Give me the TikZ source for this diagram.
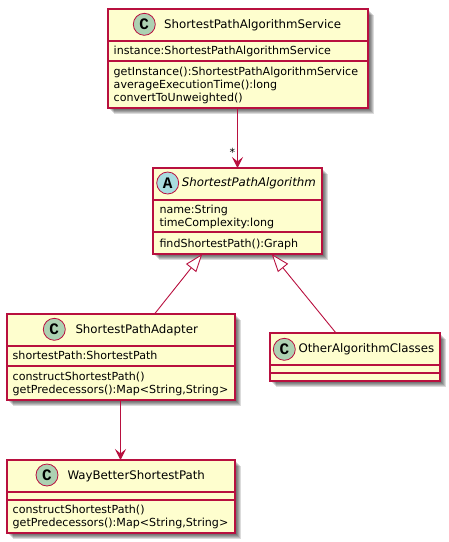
\documentclass[tikz,border=0pt]{standalone}
\usepackage{fontspec}
\setmainfont{DejaVu Sans}
\newfontfamily\markfont{Liberation Mono}
\usetikzlibrary{arrows.meta,shadows}
\definecolor{umlline}{HTML}{B8103F}
\definecolor{umlfill}{HTML}{FEFECE}
\definecolor{umlclass}{HTML}{ADD1B2}
\definecolor{umlabstract}{HTML}{A9DCDF}
\tikzset{
  softshadow/.style={general shadow={shadow xshift=#1,shadow yshift=-#1,fill=black,opacity=.14}},
  classbox/.style={draw=umlline,fill=umlfill,line width=1.1pt,inner sep=0pt,outer sep=0pt,anchor=north west,
    softshadow=6pt,softshadow=5pt,softshadow=4pt,softshadow=3pt,softshadow=2pt},
  sep/.style={umlline,line width=1.1pt},
  badge/.style={circle,draw=umlline,line width=.8pt,minimum size=22pt,inner sep=0pt,font=\markfont\bfseries\fontsize{16}{16}\selectfont},
  titletext/.style={anchor=base west,inner sep=0pt,font=\fontsize{11.8}{14}\selectfont},
  membertext/.style={anchor=base west,inner sep=0pt,align=left,font=\fontsize{11.1}{13}\selectfont},
  assoc/.style={umlline,line width=.9pt,-{Stealth[length=11pt,width=11pt,inset=4.5pt]}},
  extends/.style={umlline,line width=.9pt,-{Triangle[open,fill=white,length=18pt,width=13pt]}},
}
\begin{document}
\begin{tikzpicture}[x=1pt,y=-1pt]
\useasboundingbox (0,0) rectangle (449,542);

\node[classbox,minimum width=260pt,minimum height=99pt] (service) at (108,9) {};
\draw[sep] (108,41) -- (368,41);
\draw[sep] (108,61) -- (368,61);
\node[badge,fill=umlclass] (servicemark) at (144.3,24.3) {C};
\node[titletext] (servicetitle) at (164,28.3) {ShortestPathAlgorithmService};
\node[membertext] (servicefields) at (113.5,54.3) {instance:ShortestPathAlgorithmService};
\node[membertext] (servicemethods) at (113.5,101) {getInstance():ShortestPathAlgorithmService\\averageExecutionTime():long\\convertToUnweighted()};

\node[classbox,minimum width=169pt,minimum height=86pt] (algorithm) at (153,168) {};
\draw[sep] (153,200) -- (322,200);
\draw[sep] (153,232) -- (322,232);
\node[badge,fill=umlabstract] (algorithmmark) at (167.7,183) {A};
\node[titletext,font=\fontsize{11.8}{14}\selectfont\itshape] (algorithmtitle) at (181.7,186.7) {ShortestPathAlgorithm};
\node[membertext] (algorithmfields) at (159.3,226.3) {name:String\\timeComplexity:long};
\node[membertext] (algorithmmethods) at (159.3,247.3) {findShortestPath():Graph};

\node[classbox,minimum width=228pt,minimum height=86pt] (adapter) at (7,314) {};
\draw[sep] (7,346) -- (235,346);
\draw[sep] (7,366) -- (235,366);
\node[badge,fill=umlclass] (adaptermark) at (54.3,329.3) {C};
\node[titletext] (adaptertitle) at (75.3,333.3) {ShortestPathAdapter};
\node[membertext] (adapterfields) at (12.5,359.3) {shortestPath:ShortestPath};
\node[membertext] (adaptermethods) at (12.5,393.3) {constructShortestPath()\\getPredecessors():Map<String,String>};

\node[classbox,minimum width=170pt,minimum height=48pt] (other) at (270,333) {};
\draw[sep] (270,365) -- (440,365);
\draw[sep] (270,373) -- (440,373);
\node[badge,fill=umlclass] (othermark) at (284.3,349.3) {C};
\node[titletext] (othertitle) at (298.3,352.3) {OtherAlgorithmClasses};

\node[classbox,minimum width=228pt,minimum height=73pt] (waybetter) at (7,460) {};
\draw[sep] (7,492) -- (235,492);
\draw[sep] (7,500) -- (235,500);
\node[badge,fill=umlclass] (waybettermark) at (47,475) {C};
\node[titletext] (waybettertitle) at (67.3,479.3) {WayBetterShortestPath};
\node[membertext] (waybettermethods) at (12.5,526) {constructShortestPath()\\getPredecessors():Map<String,String>};

\draw[assoc] ([xshift=-.5pt]service.south) -- (algorithm.north) node[pos=1,inner sep=0pt,xshift=-5pt,yshift=16pt,text=black,font=\fontsize{11.1}{12}\selectfont] (manylabel) {*};
\draw[extends] ([xshift=33.5pt]adapter.north) -- ([xshift=-35.2pt]algorithm.south);
\draw[extends] ([xshift=-19pt]other.north) -- ([xshift=34.2pt]algorithm.south);
\draw[assoc] ([xshift=-.5pt]adapter.south) -- ([xshift=-.5pt]waybetter.north);
\end{tikzpicture}
\end{document}
